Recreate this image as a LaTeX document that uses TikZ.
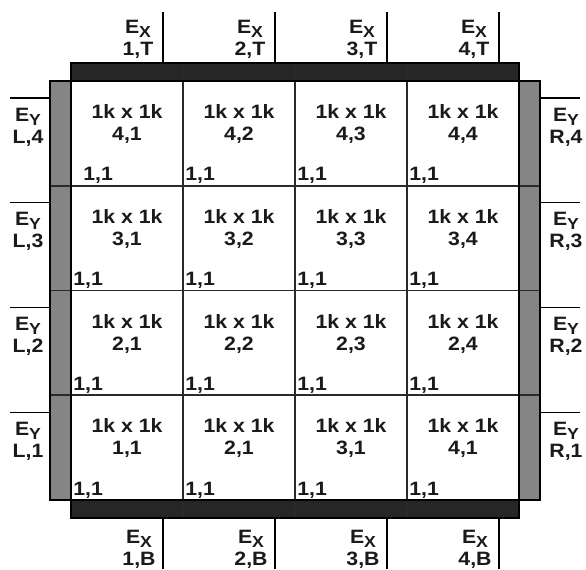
\documentclass[tikz,border=0pt]{standalone}
\usepackage{fontspec}
\setmainfont{Liberation Sans}[FakeStretch=1.1]
\definecolor{barDark}{HTML}{262626}
\definecolor{barGray}{HTML}{858585}
\definecolor{lineCol}{HTML}{2A2A2A}
\definecolor{txtCol}{HTML}{1A1A1A}
\newcommand{\EX}{E\raisebox{-0.4ex}{\fontsize{12}{12}\selectfont X}}
\newcommand{\EY}{E\raisebox{-0.4ex}{\fontsize{12}{12}\selectfont Y}}
\begin{document}
\begin{tikzpicture}[x=0.75pt,y=-0.75pt,
  every node/.style={text=txtCol,font=\fontsize{14.5}{16.5}\selectfont\bfseries,inner sep=0pt},
  gridline/.style={draw=lineCol,line width=1.4pt},
  outline/.style={draw=black,line width=1.2pt},
  tick/.style={draw=black,line width=1.1pt},
  celltxt/.style={align=center},
  corner/.style={anchor=south west},
  elabel/.style={align=center}]
\useasboundingbox (0,0) rectangle (586,569);
% bars
\fill[barDark] (71,63) rectangle (519,81);
\fill[barDark] (71,500) rectangle (519,518);
\fill[barGray] (50,81) rectangle (71,500);
\fill[barGray] (519,81) rectangle (540,500);
% grid lines
\foreach \x in {71,183,295,407,519} \draw[gridline] (\x,63) -- (\x,518);
\foreach \y in {81,185.75,290.5,395.25,500} \draw[gridline] (50,\y) -- (540,\y);
% outlines
\draw[outline] (71,63) rectangle (519,81);
\draw[outline] (71,500) rectangle (519,518);
\draw[outline] (50,81) rectangle (71,500);
\draw[outline] (519,81) rectangle (540,500);
% cells
\foreach \r/\c/\lab in {4/1/{4,1},4/2/{4,2},4/3/{4,3},4/4/{4,4},
                       3/1/{3,1},3/2/{3,2},3/3/{3,3},3/4/{3,4},
                       2/1/{2,1},2/2/{2,2},2/3/{2,3},2/4/{2,4},
                       1/1/{1,1},1/2/{2,1},1/3/{3,1},1/4/{4,1}}{
  \pgfmathsetmacro{\cx}{71+(\c-0.5)*112}
  \pgfmathsetmacro{\ty}{81+(4-\r)*104.75}
  \node[celltxt] (cell\r\c) at (\cx,\ty+43) {1k x 1k\\\lab};
}
% corner labels
\foreach \r in {1,2,3,4}{
  \foreach \c in {1,2,3,4}{
    \pgfmathsetmacro{\lx}{71+(\c-1)*112+2+ifthenelse(\r==4&&\c==1,10,0)}
    \pgfmathsetmacro{\by}{81+(5-\r)*104.75-1.5}
    \node[corner] (corner\r\c) at (\lx,\by) {1,1};
  }
}
% top and bottom ticks and labels
\foreach \c in {1,2,3,4}{
  \pgfmathsetmacro{\tx}{71+\c*112-20}
  \coordinate (tt\c) at (\tx,12);
  \coordinate (tb\c) at (\tx,63);
  \draw[tick] (tt\c) -- (tb\c);
  \node[elabel] (ext\c) at (\tx-25,39) {\EX\\\c,T};
  \coordinate (bt\c) at (\tx,518);
  \coordinate (bb\c) at (\tx,569);
  \draw[tick] (bt\c) -- (bb\c);
  \node[elabel] (exb\c) at (\tx-24,549) {\EX\\\c,B};
}
% left and right ticks and labels
\foreach \r in {1,2,3,4}{
  \pgfmathsetmacro{\ly}{81+(4-\r)*104.75+17}
  \coordinate (ll\r) at (10,\ly);
  \coordinate (lr\r) at (50,\ly);
  \draw[tick] (ll\r) -- (lr\r);
  \node[elabel] (eyl\r) at (28,\ly+29) {\EY\\L,\r};
  \coordinate (rl\r) at (540,\ly);
  \coordinate (rr\r) at (580,\ly);
  \draw[tick] (rl\r) -- (rr\r);
  \node[elabel] (eyr\r) at (566,\ly+29) {\EY\\R,\r};
}
\end{tikzpicture}
\end{document}
